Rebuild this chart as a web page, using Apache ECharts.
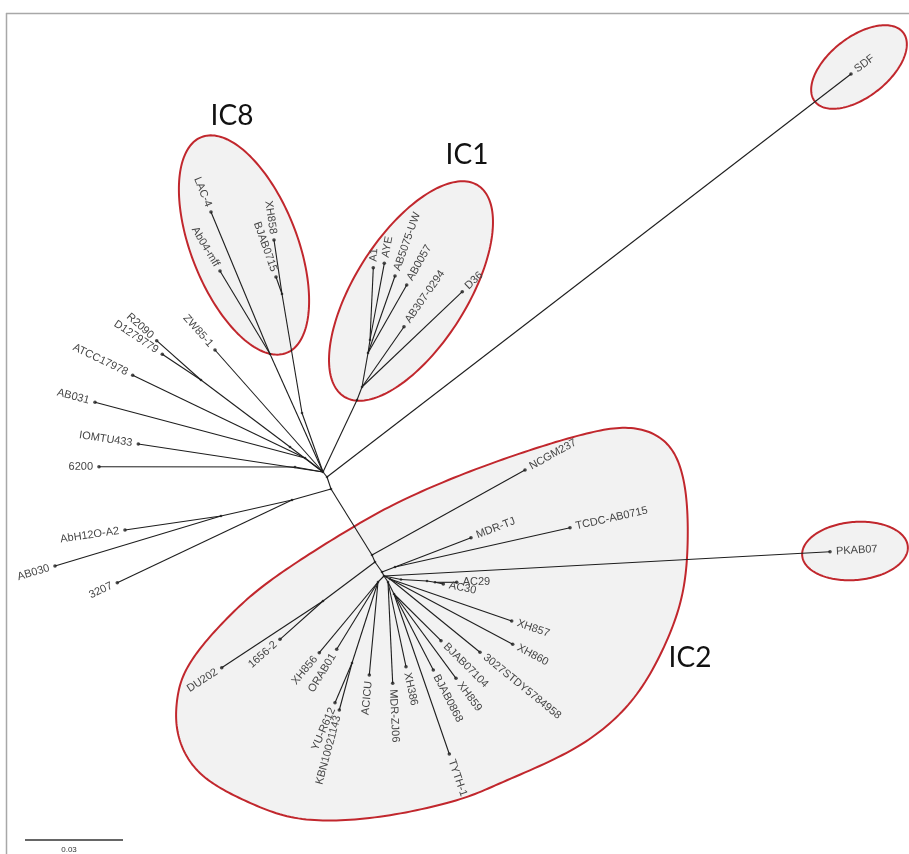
<!DOCTYPE html>
<html>
<head>
<meta charset="utf-8">
<script src="https://cdn.jsdelivr.net/npm/echarts@6/dist/echarts.min.js"></script>
<style>
  html, body { margin: 0; padding: 0; background: #ffffff; }
  #tree { width: 909px; height: 854px; }
</style>
</head>
<body>
<div id="tree"></div>
<script>
// ---- Unrooted phylogeny of A. baumannii genomes (layout units) ----

// Internal nodes: id, position, parent node
const nodeIds    = ['H', 'U1', 'U2', 'T1', 'T2', 'T3', 'C2', 'RD1', 'RD', 'AT', 'S62',
                    'IC8A', 'IC8B0', 'IC8B', 'I0', 'I1', 'I2', 'I3', 'L0', 'L1', 'D0',
                    'M0', 'AC0', 'AC1', 'AC2', 'C2L', 'Y0', 'C2R', 'R2', 'R3'];
const nodeX      = [323, 327, 331, 372, 375, 382, 384, 290, 201, 305, 295,
                    270, 302, 282, 357, 362, 368, 370, 292, 221, 323,
                    395, 401, 427, 435, 378, 352, 388, 394, 390];
const nodeY      = [472, 477, 489, 555, 562, 572, 576, 447, 380, 458, 467,
                    354, 413, 294, 400, 387, 353, 340, 500, 516, 601,
                    567, 579.5, 581, 582.3, 582, 663, 582, 594, 579];
const nodeParent = [null, 'H', 'U1', 'U2', 'T1', 'T2', 'T3', 'H', 'RD1', 'H', 'H',
                    'H', 'H', 'IC8B0', 'H', 'I0', 'I1', 'I2', 'U2', 'L0', 'T2',
                    'T3', 'C2', 'AC0', 'AC1', 'C2', 'C2L', 'C2', 'C2R', 'C2'];

// Strains (tips): name, position, parent node
const strains = ['SDF', 'LAC-4', 'Ab04-mff', 'XH858', 'BJAB0715',
                 'A1', 'AYE', 'AB5075-UW', 'AB0057', 'AB307-0294', 'D36',
                 'ZW85-1', 'R2090', 'D1279779', 'ATCC17978', 'AB031', 'IOMTU433', '6200',
                 'AbH12O-A2', 'AB030', '3207',
                 'NCGM237', 'MDR-TJ', 'TCDC-AB0715', 'PKAB07', 'AC29', 'AC30',
                 'XH857', 'XH860', '3027STDY5784958', 'BJAB07104', 'XH859', 'BJAB0868',
                 'TYTH-1', 'XH386', 'MDR-ZJ06', 'ACICU', 'KBN10021143', 'YU-R612',
                 'ORAB01', 'XH856', '1656-2', 'DU202'];
const strainX = [851, 211, 220, 274, 276,
                 373.3, 384.3, 395, 406.7, 404, 462.3,
                 215, 156.7, 162.3, 132.7, 95, 138.3, 99,
                 125, 55, 117.3,
                 525, 471, 570, 830, 456.7, 443.3,
                 511.7, 512.7, 480, 441, 456, 433.3,
                 449.3, 406, 392.7, 369.3, 339.3, 335,
                 336.7, 319.3, 280, 221.7];
const strainY = [74, 212, 271, 240, 277,
                 267.7, 263.3, 276, 285, 326.7, 291.7,
                 350, 340.7, 354.3, 375.3, 402.3, 444, 466.7,
                 530, 566, 582.7,
                 470, 537.7, 527.7, 551.7, 582.3, 584,
                 621, 644.3, 652.3, 640.7, 678.3, 670,
                 754, 666.7, 683.3, 675, 710, 702.7,
                 649.3, 652.7, 639.3, 667.7];
const strainParent = ['U1', 'IC8A', 'IC8A', 'IC8B', 'IC8B',
                      'I3', 'I3', 'I2', 'I2', 'I1', 'I1',
                      'H', 'RD', 'RD', 'AT', 'AT', 'H', 'S62',
                      'L1', 'L1', 'L0',
                      'T1', 'M0', 'M0', 'C2', 'AC2', 'AC2',
                      'R3', 'R3', 'R3', 'R2', 'R2', 'R2',
                      'R2', 'C2R', 'C2R', 'C2L', 'Y0', 'Y0',
                      'C2L', 'C2L', 'D0', 'D0'];

// Clade titles
const cladeTitles = ['IC8', 'IC1', 'IC2'];

// Scale bar (substitutions per site)
const scaleBarValue = 0.03;
const scaleBarLabel = '0.03';

// ---- layout (not data) ----
const LAYOUT_PER_SUBST = 98 / 0.03;
const titleAnchor = { IC8: [232, 116], IC1: [467, 155], IC2: [690, 658] };
const hulls = [
  { kind: 'ellipse', cx: 244, cy: 245, a: 116, b: 53, angle: 68.5 },   // IC8
  { kind: 'ellipse', cx: 411, cy: 291, a: 125, b: 56, angle: -57.6 },  // IC1
  { kind: 'ellipse', cx: 859, cy: 67, a: 56, b: 30, angle: -38 },      // SDF
  { kind: 'ellipse', cx: 855, cy: 551, a: 53, b: 29, angle: -5 },      // PKAB07
  { kind: 'outline', points: [                                         // IC2
    [183, 675], [200, 648], [230, 615], [260, 588], [300, 560], [353, 527],
    [400, 501], [465, 473], [530, 450], [580, 435], [620, 427], [652, 432],
    [675, 452], [686, 490], [688, 540], [684, 590], [669, 637], [640, 692],
    [603, 730], [560, 757], [500, 783], [463, 799], [400, 814], [340, 821],
    [290, 818], [250, 803], [218, 787], [196, 770], [182, 748], [176, 724],
    [177, 699]] }
];

// ---- build branch / tip tables ----
const pos = {};
nodeIds.forEach((id, i) => { pos[id] = [nodeX[i], nodeY[i]]; });
const branches = [];
nodeIds.forEach((id, i) => {
  if (nodeParent[i]) branches.push([pos[nodeParent[i]][0], pos[nodeParent[i]][1], nodeX[i], nodeY[i]]);
});
strains.forEach((s, i) => {
  const p = pos[strainParent[i]];
  branches.push([p[0], p[1], strainX[i], strainY[i]]);
});
const tipData = strains.map((s, i) => [strainX[i], strainY[i], pos[strainParent[i]][0], pos[strainParent[i]][1]]);
const nodeDots = nodeIds.map((id, i) => [nodeX[i], nodeY[i]]);

// closed centripetal-style smoothing of a hull outline (pixel space)
function closedSpline(pts, steps) {
  const out = [], n = pts.length;
  for (let i = 0; i < n; i++) {
    const p0 = pts[(i - 1 + n) % n], p1 = pts[i], p2 = pts[(i + 1) % n], p3 = pts[(i + 2) % n];
    for (let s = 0; s < steps; s++) {
      const t = s / steps, t2 = t * t, t3 = t2 * t;
      const f = k => 0.5 * (2 * p1[k] + (-p0[k] + p2[k]) * t +
        (2 * p0[k] - 5 * p1[k] + 4 * p2[k] - p3[k]) * t2 +
        (-p0[k] + 3 * p1[k] - 3 * p2[k] + p3[k]) * t3);
      out.push([f(0), f(1)]);
    }
  }
  return out;
}

// light moving-average pass so the outline reads as one smooth stroke
function relax(pts, passes) {
  let cur = pts;
  for (let p = 0; p < passes; p++) {
    const n = cur.length;
    cur = cur.map((q, i) => {
      const a = cur[(i - 1 + n) % n], b = cur[(i + 1) % n];
      return [(a[0] + 2 * q[0] + b[0]) / 4, (a[1] + 2 * q[1] + b[1]) / 4];
    });
  }
  return cur;
}

function hullPoints(h, api) {
  if (h.kind === 'ellipse') {
    const pts = [], ang = h.angle * Math.PI / 180;
    for (let i = 0; i < 180; i++) {
      const t = i / 180 * 2 * Math.PI;
      const u = h.a * Math.cos(t), v = h.b * Math.sin(t);
      pts.push(api.coord([h.cx + u * Math.cos(ang) - v * Math.sin(ang),
                          h.cy + u * Math.sin(ang) + v * Math.cos(ang)]));
    }
    return pts;
  }
  return relax(closedSpline(h.points.map(p => api.coord(p)), 12), 40);
}

const chart = echarts.init(document.getElementById('tree'), null, { renderer: 'canvas' });

chart.setOption({
  animation: false,
  backgroundColor: '#ffffff',
  grid: { left: 0, right: 0, top: 0, bottom: 0 },
  xAxis: { type: 'value', min: 0, max: 909, show: false },
  yAxis: { type: 'value', min: 0, max: 854, inverse: true, show: false },
  graphic: [
    { type: 'line', shape: { x1: 6, y1: 13.5, x2: 909, y2: 13.5 }, style: { stroke: '#a8a8a8', lineWidth: 1.5 }, z: 100 },
    { type: 'line', shape: { x1: 6.5, y1: 13, x2: 6.5, y2: 854 }, style: { stroke: '#a8a8a8', lineWidth: 1.5 }, z: 100 }
  ],
  series: [
    {
      // clade hulls
      type: 'custom', z: 1, silent: true,
      data: hulls.map((h, i) => [i]),
      renderItem: (params, api) => ({
        type: 'polygon',
        shape: { points: hullPoints(hulls[params.dataIndex], api) },
        style: { fill: '#f2f2f2', stroke: '#c1272d', lineWidth: 2 }
      })
    },
    {
      // branches
      type: 'custom', z: 2, silent: true,
      data: branches,
      renderItem: (params, api) => {
        const a = api.coord([api.value(0), api.value(1)]);
        const b = api.coord([api.value(2), api.value(3)]);
        return { type: 'line', shape: { x1: a[0], y1: a[1], x2: b[0], y2: b[1] },
                 style: { stroke: '#1e1e1e', lineWidth: 1.1 } };
      }
    },
    {
      type: 'scatter', z: 3, silent: true, symbol: 'circle', symbolSize: 2.6,
      itemStyle: { color: '#1e1e1e' }, data: nodeDots
    },
    {
      type: 'scatter', z: 3, silent: true, symbol: 'circle', symbolSize: 3.6,
      itemStyle: { color: '#1e1e1e' }, data: strains.map((s, i) => [strainX[i], strainY[i]])
    },
    {
      // strain labels, laid along their branch
      type: 'custom', z: 4, silent: true,
      data: tipData,
      renderItem: (params, api) => {
        const p = api.coord([api.value(0), api.value(1)]);
        const q = api.coord([api.value(2), api.value(3)]);
        const th = Math.atan2(p[1] - q[1], p[0] - q[0]);
        const flip = th > Math.PI / 2 + 1e-6 || th <= -Math.PI / 2 - 1e-6;
        const gap = 6;
        return {
          type: 'text',
          x: p[0] + gap * Math.cos(th),
          y: p[1] + gap * Math.sin(th),
          rotation: flip ? -(th + Math.PI) : -th,
          style: {
            text: strains[params.dataIndex],
            align: flip ? 'right' : 'left',
            verticalAlign: 'middle',
            fill: '#454545',
            font: '11px "Liberation Sans", Arial, sans-serif'
          }
        };
      }
    },
    {
      // clade titles
      type: 'custom', z: 5, silent: true,
      data: cladeTitles.map((t, i) => [i]),
      renderItem: (params, api) => {
        const name = cladeTitles[params.dataIndex];
        const c = api.coord(titleAnchor[name]);
        return { type: 'text', x: c[0], y: c[1],
                 style: { text: name, align: 'center', verticalAlign: 'middle',
                          fill: '#111111', font: '28px Lato, "Open Sans", sans-serif' } };
      }
    },
    {
      // scale bar
      type: 'custom', z: 5, silent: true,
      data: [[25, 840]],
      renderItem: (params, api) => {
        const a = api.coord([api.value(0), api.value(1)]);
        const b = api.coord([api.value(0) + scaleBarValue * LAYOUT_PER_SUBST, api.value(1)]);
        return { type: 'group', children: [
          { type: 'line', shape: { x1: a[0], y1: a[1], x2: b[0], y2: b[1] },
            style: { stroke: '#333333', lineWidth: 1.5 } },
          { type: 'text', x: (a[0] + b[0]) / 2 - 5, y: a[1] + 10,
            style: { text: scaleBarLabel, align: 'center', verticalAlign: 'middle',
                     fill: '#333333', font: '8px "Liberation Sans", Arial, sans-serif' } }
        ] };
      }
    }
  ]
});
</script>
</body>
</html>
